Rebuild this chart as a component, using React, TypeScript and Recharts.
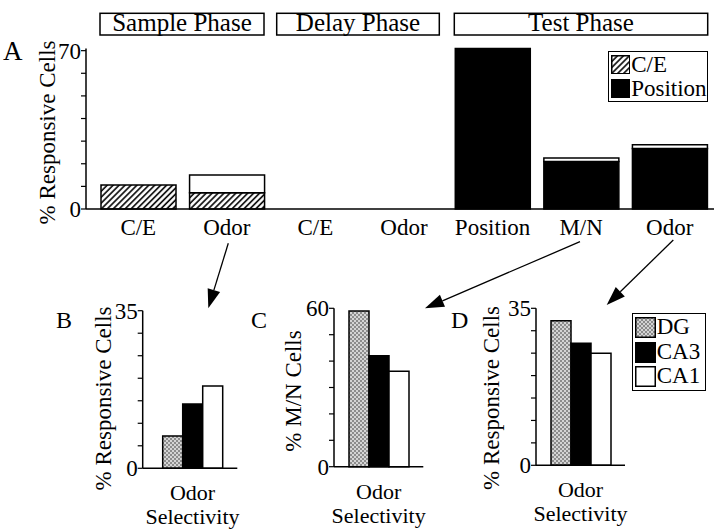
import React from 'react';
import { BarChart, Bar, XAxis, YAxis, Legend, Label } from 'recharts';

const FONT = "'Liberation Serif', 'Nimbus Roman', 'Nimbus Roman No9 L', Tinos, FreeSerif, 'Noto Serif', 'DejaVu Serif', serif";

// ---------- Panel A data ----------
const phaseCategories = ['C/E', 'Odor', 'C/E', 'Odor', 'Position', 'M/N', 'Odor'];
const ceValues = [10.6, 7.2, 0, 0, 0, 0, 0];
const positionValues = [0, 0, 0, 0, 71, 21, 26.7];
const otherValues = [0, 7.8, 0, 0, 0, 1.5, 1.7];
const phaseNames = ['Sample Phase', 'Delay Phase', 'Test Phase'];
const ticksA = [0, 10, 20, 30, 40, 50, 60, 70];
const legendOrderA = ['C/E', 'Position'];

// ---------- Panels B-D data ----------
const regionNames = ['DG', 'CA3', 'CA1'];
const selectivityCategory = ['Odor Selectivity'];
const panelBValues = [7.2, 14.3, 18.3];
const panelCValues = [59, 42, 36.2];
const panelDValues = [32.2, 27.2, 25.0];
const ticks35 = [0, 5, 10, 15, 20, 25, 30, 35];
const ticks60 = [0, 10, 20, 30, 40, 50, 60];

const dataA = phaseCategories.map((cat, i) => ({
  cat,
  ce: ceValues[i],
  position: positionValues[i],
  other: otherValues[i],
}));

const makeRegionData = (vals: number[]) =>
  selectivityCategory.map((cat) => {
    const row: any = { cat };
    regionNames.forEach((r, i) => (row[r] = vals[i]));
    return row;
  });

const abs: React.CSSProperties = { position: 'absolute', left: 0, top: 0 };

const endTicks = (max: number) => (v: number) => (v === 0 || v === max ? String(v) : '');

const VLabel = (cx: number, cy: number, text: string) => () => (
  <text
    transform={`translate(${cx},${cy}) rotate(-90)`}
    textAnchor="middle"
    dominantBaseline="central"
    fontFamily={FONT}
    fontSize={23}
    fill="#000"
  >
    {text}
  </text>
);

const TwoLineTick = (props: any) => {
  const { x, y, payload } = props;
  const parts = String(payload.value).split(' ');
  return (
    <g>
      <text x={x} y={y + 32} textAnchor="middle" fontFamily={FONT} fontSize={22} fill="#000">{parts[0]}</text>
      <text x={x} y={y + 56} textAnchor="middle" fontFamily={FONT} fontSize={22} fill="#000">{parts[1]}</text>
    </g>
  );
};

const makeLegend = (w: number, h: number, sw: number, rowH: number, order: string[]) => (props: any) => {
  const items = (props.payload || [])
    .filter((p: any) => p.type !== 'none' && order.indexOf(String(p.value)) >= 0)
    .sort((a: any, b: any) => order.indexOf(String(a.value)) - order.indexOf(String(b.value)));
  return (
    <div
      style={{
        width: w,
        height: h,
        border: '1.5px solid #000',
        boxSizing: 'border-box',
        background: '#fff',
        padding: '1px 2px',
        fontFamily: FONT,
        fontSize: 23,
        color: '#000',
      }}
    >
      {items.map((it: any) => (
        <div key={it.value} style={{ display: 'flex', alignItems: 'center', height: rowH }}>
          <svg width={sw} height={sw} style={{ display: 'block', flex: 'none' }}>
            <rect x={0.75} y={0.75} width={sw - 1.5} height={sw - 1.5} fill={it.color} stroke="#000" strokeWidth={1.5} />
          </svg>
          <span style={{ marginLeft: 1, lineHeight: `${rowH}px`, whiteSpace: 'nowrap' }}>{it.value}</span>
        </div>
      ))}
    </div>
  );
};

const tickStyle = { fontFamily: FONT, fontSize: 23, fill: '#000' };

const GrayPattern = ({ id }: { id: string }) => (
  <defs>
    <pattern id={id} patternUnits="userSpaceOnUse" width={4} height={4}>
      <rect x={0} y={0} width={4} height={4} fill="#d4d4d4" />
      <rect x={0} y={0} width={2} height={2} fill="#8c8c8c" />
      <rect x={2} y={2} width={2} height={2} fill="#8c8c8c" />
    </pattern>
  </defs>
);

const SmallPanel = ({
  values,
  max,
  ticks,
  axisX,
  topY,
  zeroY,
  rightX,
  padLeft,
  label,
  labelX,
  labelY,
  patternId,
  legend,
}: any) => {
  const xAxisH = 60;
  return (
    <div style={abs}>
      <BarChart
        width={720}
        height={531}
        data={makeRegionData(values)}
        margin={{ top: topY, right: 720 - rightX, bottom: 531 - zeroY - xAxisH, left: 0 }}
        barGap={0}
      >
        <GrayPattern id={patternId} />
        <XAxis
          dataKey="cat"
          height={xAxisH}
          tickLine={false}
          tickSize={0}
          tickMargin={0}
          axisLine={{ stroke: '#000', strokeWidth: 1.5 }}
          tick={<TwoLineTick />}
          padding={{ left: padLeft, right: 0 }}
        />
        <YAxis
          width={axisX}
          domain={[0, max]}
          ticks={ticks}
          interval={0}
          tickFormatter={endTicks(max)}
          tickSize={5}
          tickMargin={0}
          tick={tickStyle}
          axisLine={{ stroke: '#000', strokeWidth: 1.5 }}
          tickLine={{ stroke: '#000', strokeWidth: 1.2 }}
        >
          <Label content={VLabel(labelX, labelY, label)} />
        </YAxis>
        {legend ? (
          <Legend
            layout="vertical"
            align="center"
            verticalAlign="middle"
            wrapperStyle={{ left: 631.7, top: 313.3 }}
            content={makeLegend(74.3, 77.4, 21, 24.5, regionNames)}
          />
        ) : null}
        <Bar dataKey="DG" name="DG" fill={`url(#${patternId})`} stroke="#000" strokeWidth={1.5} barSize={20} isAnimationActive={false} />
        <Bar dataKey="CA3" name="CA3" fill="#000" stroke="#000" strokeWidth={1.5} barSize={20} isAnimationActive={false} />
        <Bar dataKey="CA1" name="CA1" fill="#fff" stroke="#000" strokeWidth={1.5} barSize={20} isAnimationActive={false} />
      </BarChart>
    </div>
  );
};

const Arrow = ({ x1, y1, x2, y2 }: any) => {
  const dx = x2 - x1;
  const dy = y2 - y1;
  const len = Math.sqrt(dx * dx + dy * dy);
  const ux = dx / len;
  const uy = dy / len;
  const hl = 19;
  const hw = 6.5;
  const bx = x2 - ux * hl;
  const by = y2 - uy * hl;
  const pts = `${x2},${y2} ${bx - uy * hw},${by + ux * hw} ${bx + uy * hw},${by - ux * hw}`;
  return (
    <g>
      <line x1={x1} y1={y1} x2={bx} y2={by} stroke="#000" strokeWidth={1.3} />
      <polygon points={pts} fill="#000" />
    </g>
  );
};

const phaseBoxes = [
  { x: 100, w: 164 },
  { x: 276.7, w: 162.6 },
  { x: 454.3, w: 253.4 },
];

export default function App() {
  const xAxisHA = 30;
  const zeroA = 209;
  return (
    <div style={{ position: 'absolute', left: 0, top: 0, width: 720, height: 531, background: '#fff', overflow: 'hidden', fontFamily: FONT }}>
      {/* Panel A */}
      <div style={abs}>
        <BarChart
          width={720}
          height={250}
          data={dataA}
          margin={{ top: 48.4, right: 6, bottom: 250 - zeroA - xAxisHA, left: 0 }}
        >
          <defs>
            <pattern id="hatchA" patternUnits="userSpaceOnUse" width={4.2} height={4.2} patternTransform="rotate(45)">
              <rect x={0} y={0} width={4.2} height={4.2} fill="#fff" />
              <line x1={1} y1={0} x2={1} y2={4.2} stroke="#000" strokeWidth={1.6} />
            </pattern>
          </defs>
          <XAxis
            dataKey="cat"
            height={xAxisHA}
            interval={0}
            tickLine={false}
            tickSize={0}
            tickMargin={10}
            tick={tickStyle}
            padding={{ left: 8, right: 0 }}
            axisLine={{ stroke: '#000', strokeWidth: 1.5 }}
          />
          <YAxis
            width={86}
            domain={[0, 71]}
            ticks={ticksA}
            interval={0}
            tickFormatter={endTicks(70)}
            tickSize={5}
            tickMargin={0}
            tick={tickStyle}
            axisLine={{ stroke: '#000', strokeWidth: 1.5 }}
            tickLine={{ stroke: '#000', strokeWidth: 1.2 }}
          >
            <Label content={VLabel(47, 132.5, '% Responsive Cells')} />
          </YAxis>
          <Legend
            layout="vertical"
            align="center"
            verticalAlign="middle"
            wrapperStyle={{ left: 607.7, top: 50.7 }}
            content={makeLegend(100, 51, 19.5, 24, legendOrderA)}
          />
          <Bar dataKey="ce" name="C/E" stackId="a" fill="url(#hatchA)" stroke="#000" strokeWidth={1.5} barSize={75} isAnimationActive={false} />
          <Bar dataKey="position" name="Position" stackId="a" fill="#000" stroke="#000" strokeWidth={1.5} barSize={75} isAnimationActive={false} />
          <Bar dataKey="other" name="Other" legendType="none" stackId="a" fill="#fff" stroke="#000" strokeWidth={1.5} barSize={75} isAnimationActive={false} />
        </BarChart>
      </div>

      <SmallPanel values={panelBValues} max={35} ticks={ticks35} axisX={142.7} topY={310.7} zeroY={468.3} rightX={237.3} padLeft={5}
        label="% Responsive Cells" labelX={103} labelY={398.5} patternId="grayB" legend={false} />
      <SmallPanel values={panelCValues} max={60} ticks={ticks60} axisX={334} topY={308.3} zeroY={466.7} rightX={423.3} padLeft={0}
        label="% M/N Cells" labelX={293.3} labelY={391} patternId="grayC" legend={false} />
      <SmallPanel values={panelDValues} max={35} ticks={ticks35} axisX={536} topY={308.3} zeroY={465.3} rightX={625} padLeft={0}
        label="% Responsive Cells" labelX={491.7} labelY={398} patternId="grayD" legend={true} />

      {/* Annotations */}
      <svg width={720} height={531} style={{ ...abs, pointerEvents: 'none' }}>
        {phaseBoxes.map((b, i) => (
          <g key={phaseNames[i]}>
            <rect x={b.x} y={13.3} width={b.w} height={21.7} fill="#fff" stroke="#000" strokeWidth={1.5} />
            <text x={b.x + b.w / 2} y={30.5} textAnchor="middle" fontFamily={FONT} fontSize={25} fill="#000">
              {phaseNames[i]}
            </text>
          </g>
        ))}
        <text x={3} y={60} fontFamily={FONT} fontSize={27} fill="#000">A</text>
        <text x={56} y={328} fontFamily={FONT} fontSize={24} fill="#000">B</text>
        <text x={251} y={328} fontFamily={FONT} fontSize={24} fill="#000">C</text>
        <text x={451} y={328} fontFamily={FONT} fontSize={24} fill="#000">D</text>
        <Arrow x1={228.3} y1={243.3} x2={208.3} y2={308.3} />
        <Arrow x1={580} y1={241.7} x2={425} y2={308.3} />
        <Arrow x1={673.3} y1={240} x2={606.7} y2={305} />
      </svg>
    </div>
  );
}
